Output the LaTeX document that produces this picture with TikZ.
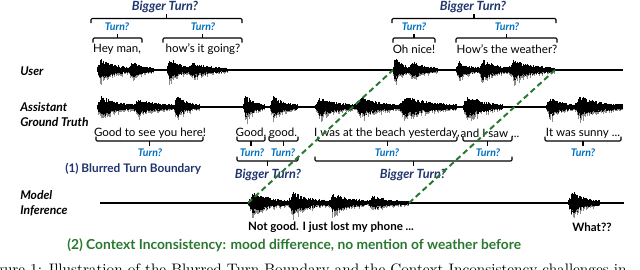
\documentclass[tikz,border=0pt]{standalone}
\usepackage{fontspec}
\setsansfont{Lato}
\usepackage{tikz}
\usetikzlibrary{positioning, arrows.meta, calc}
\definecolor{navyt}{RGB}{32,52,110}
\definecolor{turnb}{RGB}{0,112,192}
\definecolor{ctxg}{RGB}{40,120,48}
\definecolor{wavg}{RGB}{140,140,140}
\newcommand{\syl}[4]{%
  \pgfmathsetmacro{\nn}{int((#2-#1)/0.6)}
  \foreach \k in {0,...,\nn}{
    \pgfmathsetmacro{\tt}{\k/\nn}
    \pgfmathsetmacro{\ee}{1.5+#4*ifthenelse(\tt<0.12,\tt/0.12,exp(-2.3*(\tt-0.12)))}
    \pgfmathsetmacro{\up}{\ee*(0.5+0.5*rnd)}
    \pgfmathsetmacro{\dn}{\ee*(0.5+0.5*rnd)}
    \pgfmathsetmacro{\gr}{\dn*(1+0.7*rnd)}
    \draw[wav, wavg] (#1+\k*0.6,#3) -- (#1+\k*0.6,#3+\gr);
    \draw[wav] (#1+\k*0.6,#3-\up) -- (#1+\k*0.6,#3+\dn);
  }}
\newcommand{\brk}[4]{%
  \draw[tick] (#1,#3+4.5*#4) -- (#1,#3) -- (#2,#3) -- (#2,#3+4.5*#4);
  \draw[tick] ({(#1+#2)/2},#3) -- ({(#1+#2)/2},#3-4.5*#4);}

\begin{document}
\begin{tikzpicture}[x=0.025cm, y=-0.025cm,
  spk/.style={font=\sffamily\bfseries\itshape\fontsize{8.6}{10.5}\selectfont, anchor=west, align=left, inner sep=0pt},
  utt/.style={font=\sffamily\fontsize{8.2}{10}\selectfont, inner sep=0pt},
  said/.style={utt, font=\sffamily\bfseries\fontsize{8.2}{10}\selectfont},
  trn/.style={font=\sffamily\bfseries\itshape\fontsize{7.5}{9}\selectfont, text=turnb, inner sep=0pt},
  big/.style={trn, font=\sffamily\bfseries\itshape\fontsize{9}{10}\selectfont, text=navyt},
  ttl/.style={font=\sffamily\bfseries\fontsize{9.8}{11}\selectfont, inner sep=0pt, anchor=west},
  tick/.style={line width=0.8pt, rounded corners=0.8pt},
  trk/.style={line width=0.9pt},
  wav/.style={line width=0.45pt},
  ctx/.style={ctxg, line width=1.4pt, dash pattern=on 4pt off 2.5pt}]
\clip (0,0) rectangle (640,270);
\pgfmathsetseed{11}
\draw[trk] (97,70) -- (623,70);
\draw[trk] (97,107) -- (623,107);
\draw[trk] (100,203) -- (624,203);
\syl{97}{131}{70}{11} \syl{129}{153}{70}{8}
\syl{167}{190}{70}{12} \syl{188}{227}{70}{7}
\syl{393}{411}{70}{12} \syl{409}{438}{70}{8}
\syl{456}{481}{70}{8} \syl{479}{510}{70}{10} \syl{508}{555}{70}{9}
\syl{97}{135}{107}{10} \syl{133}{176}{107}{7} \syl{174}{200}{107}{10}
\syl{243}{265}{107}{11} \syl{270}{297}{107}{10}
\syl{315}{358}{107}{9} \syl{356}{400}{107}{9} \syl{398}{457}{107}{10}
\syl{463}{502}{107}{11}
\syl{546}{576}{107}{9} \syl{574}{622}{107}{10}
\syl{248}{290}{203}{10} \syl{288}{330}{203}{10} \syl{328}{370}{203}{9} \syl{368}{409}{203}{6}
\syl{568}{600}{203}{11}
\node[spk] (luser) at (20,71) {User};
\node[spk] (lasst) at (20,114.5) {Assistant\\Ground Truth};
\node[spk] (lmod) at (20,203) {Model\\Inference};
\node[big] (b1) at (165,6.5) {Bigger Turn?};
\node[big] (b2) at (473,6.5) {Bigger Turn?};
\brk{91}{242}{18.5}{1}
\brk{392}{556}{18.5}{1}
\node[trn] (t1) at (117,27) {Turn?};
\node[trn] (t2) at (203,27) {Turn?};
\node[trn] (t3) at (414,27) {Turn?};
\node[trn] (t4) at (507,27) {Turn?};
\brk{93}{142}{38}{1}
\brk{163}{242}{38}{1}
\brk{393}{435}{38}{1}
\brk{456}{557}{38}{1}
\node[utt] (uhey) at (117,49) {Hey man,};
\node[utt] (uhow) at (203,49) {how's it going?};
\node[utt] (unice) at (414,49) {Oh nice!};
\node[utt] (uwea) at (507,49) {How's the weather?};
\node[utt] (agood) at (150,133) {Good to see you here!};
\node[utt] (ag1) at (251,133) {Good,};
\node[utt] (ag2) at (283,133) {good.};
\node[utt] (abeach) at (387,133) {I was at the beach yesterday,};
\node[utt] (asaw) at (490,133) {and I saw ...};
\node[utt] (asunny) at (583,133) {It was sunny ...};
\brk{96}{203}{141}{-1}
\brk{237}{265}{141}{-1}
\brk{269}{298}{141}{-1}
\brk{318}{457}{141}{-1}
\brk{463}{512}{141}{-1}
\brk{545}{621}{141}{-1}
\node[trn] (t5) at (150,153) {Turn?};
\node[trn] (t6) at (252,153) {Turn?};
\node[trn] (t7) at (283,153) {Turn?};
\node[trn] (t8) at (387,153) {Turn?};
\node[trn] (t9) at (488,153) {Turn?};
\node[trn] (t10) at (583,153) {Turn?};
\brk{237}{298}{161}{-1}
\brk{315}{512}{161}{-1}
\node[big] (b3) at (268,175) {Bigger Turn?};
\node[big] (b4) at (413,175) {Bigger Turn?};
\node[ttl, text=navyt, font=\sffamily\bfseries\fontsize{8.4}{10}\selectfont] (p1) at (65,169) {(1) Blurred Turn Boundary};
\node[said] (mnot) at (331,227) {Not good. I just lost my phone ...};
\node[said] (mwhat) at (592,227) {What??};
\node[ttl, text=ctxg] (p2) at (67,245) {(2) Context Inconsistency: mood difference, no mention of weather before};
\node[anchor=base west, inner sep=0pt, font=\fontsize{10.8}{13}\selectfont] (cap) at (-18,274)
  {Figure 1: Illustration of the Blurred Turn Boundary and the Context Inconsistency challenges in};
\coordinate (m0) at (248,203);
\coordinate (n0) at (393,70);
\coordinate (m1) at (409,203);
\coordinate (w1) at (555,70);
\draw[ctx] (m0) -- (n0);
\draw[ctx] (m1) -- (w1);
\end{tikzpicture}
\end{document}
